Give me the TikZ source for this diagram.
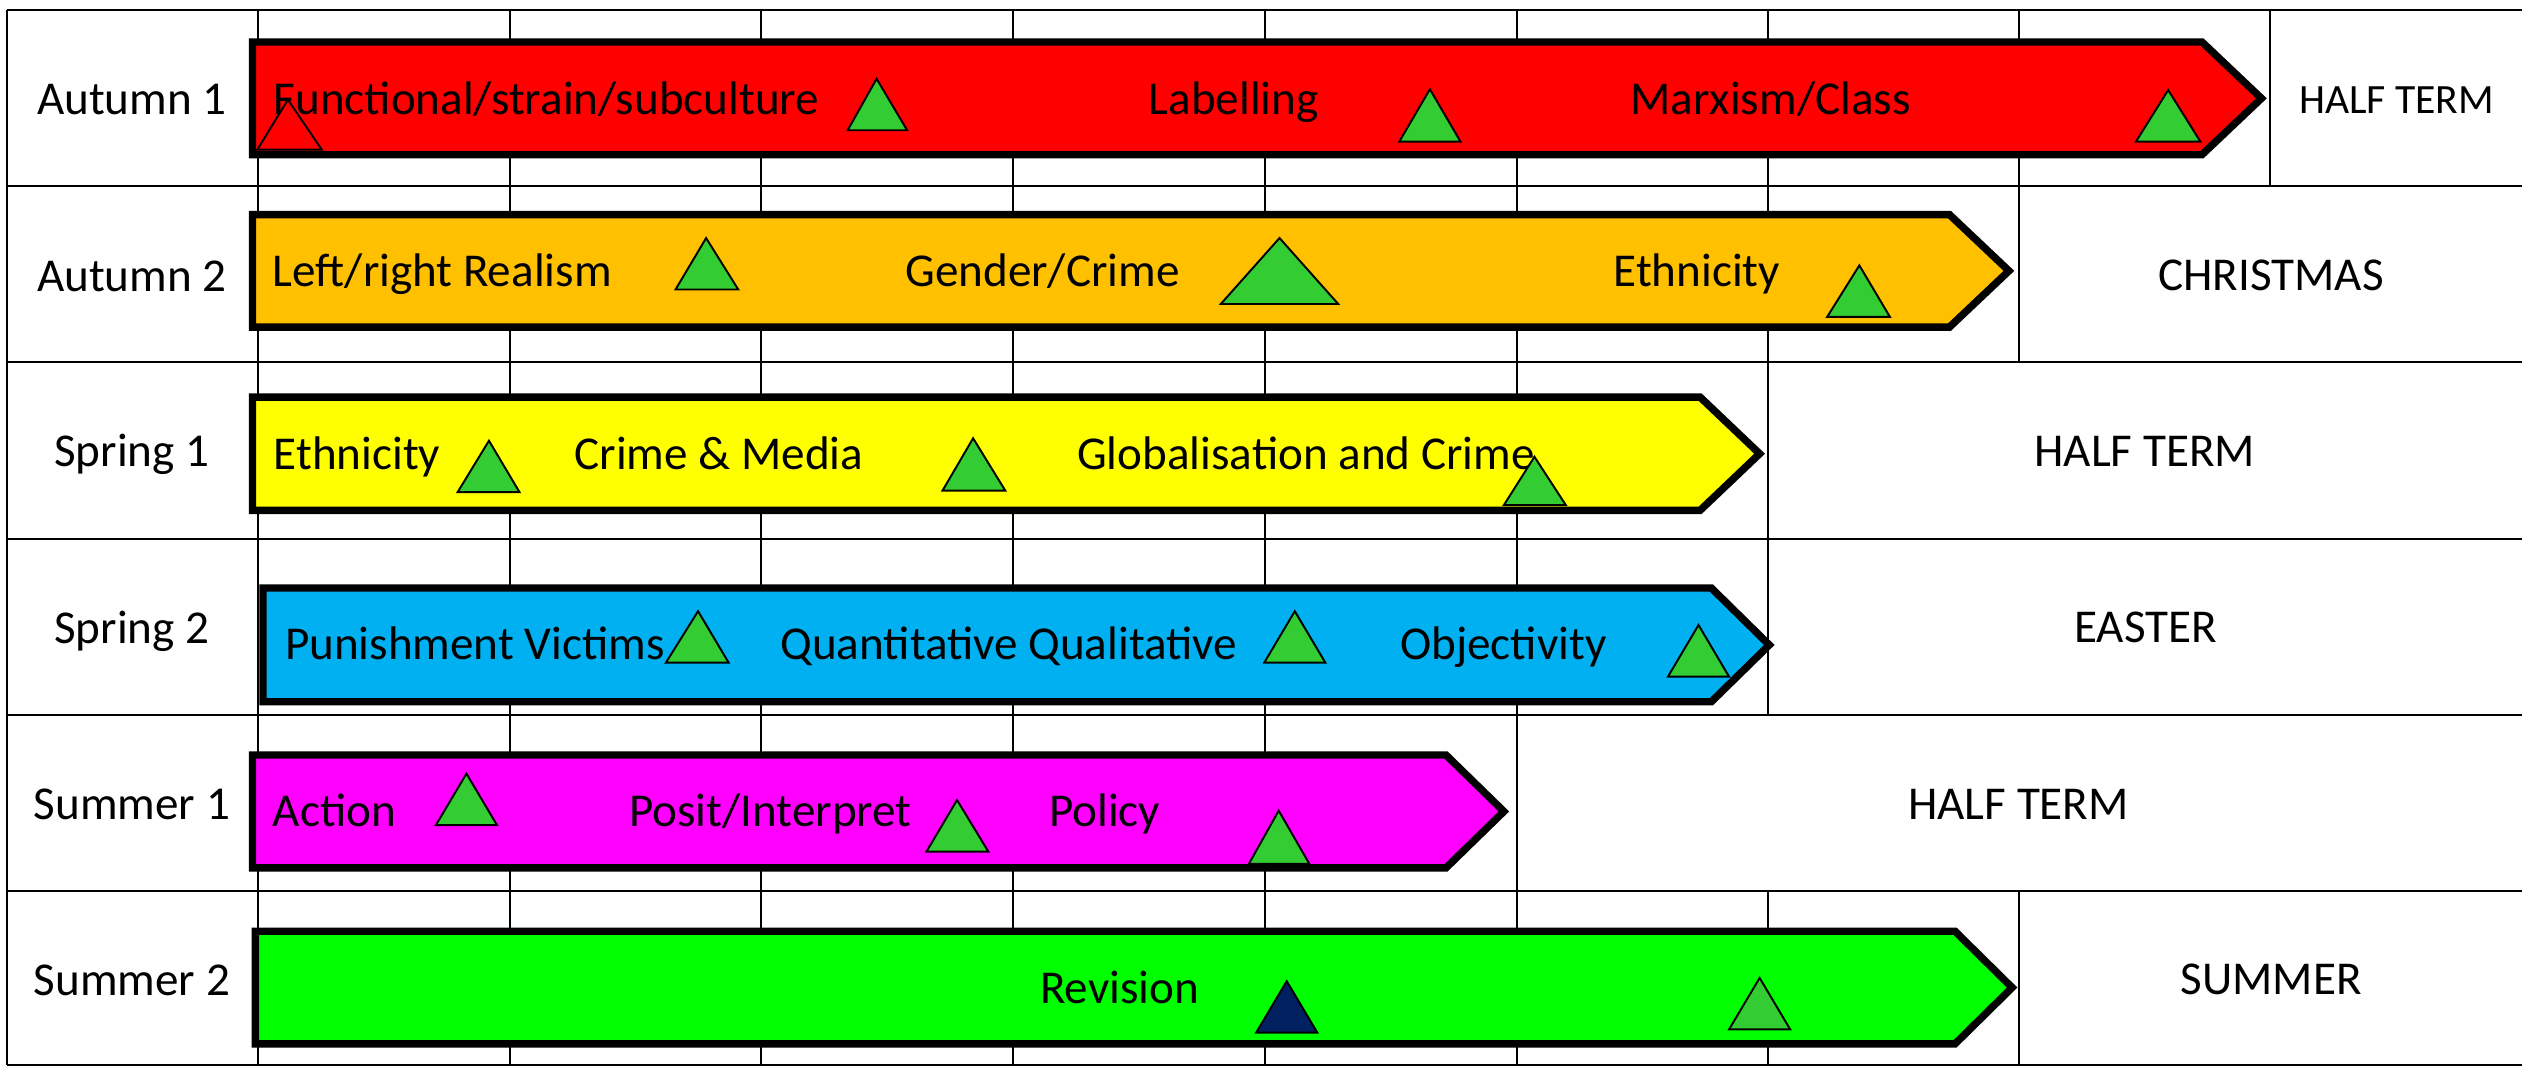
\documentclass[tikz,border=0pt]{standalone}
\usepackage{fontspec}
\setmainfont{Carlito}
\definecolor{aored}{HTML}{FF0000}
\definecolor{aoorange}{HTML}{FFC000}
\definecolor{aoyellow}{HTML}{FFFF00}
\definecolor{aoblue}{HTML}{00B0F0}
\definecolor{aomagenta}{HTML}{FF00FF}
\definecolor{aogreen}{HTML}{00FF00}
\definecolor{trigreen}{HTML}{33CC33}
\definecolor{trinavy}{HTML}{002060}
\begin{document}
\begin{tikzpicture}[x=1pt,y=-1pt,
  gridline/.style={line width=1.3pt, black},
  termbar/.style={line width=4.6pt, black, line join=miter, miter limit=10},
  tri/.style={line width=1.2pt, black, fill=trigreen, line join=miter},
  lbl/.style={font=\fontsize{29.3}{35}\selectfont, inner sep=0pt, anchor=base west},
  clbl/.style={font=\fontsize{29.3}{35}\selectfont, inner sep=0pt, anchor=base},
]
\useasboundingbox (0,0) rectangle (1568,663);
\fill[white] (0,0) rectangle (1568,663);

% ---- grid ----
\foreach \yy in {6,115.4,225,335,444.5,554,662}
  \draw[gridline] (4.3,\yy) -- (1568,\yy);
\draw[gridline] (4.3,6) -- (4.3,662);
% row 1
\foreach \xx in {160.6,316.8,473.3,630.0,786.4,942.9,1099.2,1255.5,1411.5}
  \draw[gridline] (\xx,6) -- (\xx,115.4);
% row 2
\foreach \xx in {160.6,316.8,473.3,630.0,786.4,942.9,1099.2,1255.5}
  \draw[gridline] (\xx,115.4) -- (\xx,225);
% rows 3-4
\foreach \xx in {160.6,316.8,473.3,630.0,786.4,942.9,1099.2}
  \draw[gridline] (\xx,225) -- (\xx,444.5);
% row 5
\foreach \xx in {160.6,316.8,473.3,630.0,786.4,942.9}
  \draw[gridline] (\xx,444.5) -- (\xx,554);
% row 6
\foreach \xx in {160.6,316.8,473.3,630.0,786.4,942.9,1099.2,1255.5}
  \draw[gridline] (\xx,554) -- (\xx,662);

% ---- row labels ----
\node[clbl] (r1) at (82,71.1) {Autumn 1};
\node[clbl] (r2) at (82,181) {Autumn 2};
\node[clbl] (r3) at (82,290.2) {Spring 1};
\node[clbl] (r4) at (82,400) {Spring 2};
\node[clbl] (r5) at (82,509.8) {Summer 1};
\node[clbl] (r6) at (82,619) {Summer 2};

% ---- holiday cells ----
\node[clbl, font=\fontsize{25.9}{31}\selectfont] (h1) at (1490,70.3) {HALF TERM};
\node[clbl] (h2) at (1412,180.7) {CHRISTMAS};
\node[clbl] (h3) at (1333.4,290.2) {HALF TERM};
\node[clbl] (h4) at (1334,399.6) {EASTER};
\node[clbl] (h5) at (1255,509.2) {HALF TERM};
\node[clbl] (h6) at (1412,618.6) {SUMMER};

% ---- term arrows ----
\draw[termbar, fill=aored] (157,26.1) -- (1369,26.1) -- (1406,61.15) -- (1369,96.2) -- (157,96.2) -- cycle;
\draw[termbar, fill=aoorange] (157,133.4) -- (1212,133.4) -- (1249,168.4) -- (1212,203.4) -- (157,203.4) -- cycle;
\draw[termbar, fill=aoyellow] (157,246.9) -- (1057,246.9) -- (1094,282.1) -- (1057,317.3) -- (157,317.3) -- cycle;
\draw[termbar, fill=aoblue] (163.5,365.6) -- (1064,365.6) -- (1100,401) -- (1064,436.3) -- (163.5,436.3) -- cycle;
\draw[termbar, fill=aomagenta] (157,469.4) -- (899,469.4) -- (935,504.5) -- (899,539.6) -- (157,539.6) -- cycle;
\draw[termbar, fill=aogreen] (158.8,579) -- (1215.5,579) -- (1251,614) -- (1215.5,649) -- (158.8,649) -- cycle;

% ---- texts in arrows ----
\node[lbl] (t11) at (170,71.1) {Functional/strain/subculture};
\node[lbl] (t12) at (714,71.1) {Labelling};
\node[lbl] (t13) at (1013.5,71.1) {Marxism/Class};
\node[lbl] (t21) at (169.5,178.2) {Left/right Realism};
\node[lbl] (t22) at (562.7,178.2) {Gender/Crime};
\node[lbl] (t23) at (1003,178.2) {Ethnicity};
\node[lbl] (t31) at (170,291.7) {Ethnicity};
\node[lbl] (t32) at (357,291.7) {Crime \& Media};
\node[lbl] (t33) at (669.5,291.7) {Globalisation and Crime};
\node[lbl] (t41) at (177,410.2) {Punishment Victims};
\node[lbl] (t42) at (485,410.2) {Quantitative Qualitative};
\node[lbl] (t43) at (870.4,410.2) {Objectivity};
\node[lbl] (t51) at (169.5,514) {Action};
\node[lbl] (t52) at (391,514) {Posit/Interpret};
\node[lbl] (t53) at (652,514) {Policy};
\node[lbl] (t61) at (646.4,623.8) {Revision};

% ---- triangles ----
\draw[tri, fill=aored] (160,93) -- (179,62) -- (200,93) -- cycle;
\draw[tri] (527,81) -- (545,49) -- (564,81) -- cycle;
\draw[tri] (870,88) -- (889,55.5) -- (908,88) -- cycle;
\draw[tri] (1328,88) -- (1348,56) -- (1368,88) -- cycle;
\draw[tri] (420,180) -- (439,148) -- (459,180) -- cycle;
\draw[tri] (759,189) -- (795.5,148) -- (832,189) -- cycle;
\draw[tri] (1136,197) -- (1156,165) -- (1175,197) -- cycle;
\draw[tri] (284.5,306) -- (304,274) -- (323,306) -- cycle;
\draw[tri] (586,305) -- (605,272.5) -- (625,305) -- cycle;
\draw[tri] (935,314) -- (954,284) -- (973.5,314) -- cycle;
\draw[tri] (414,412) -- (434,380) -- (453,412) -- cycle;
\draw[tri] (786,412) -- (805,380) -- (824,412) -- cycle;
\draw[tri] (1037,420.7) -- (1056,388.6) -- (1075,420.7) -- cycle;
\draw[tri] (271,513) -- (290,481) -- (309,513) -- cycle;
\draw[tri] (576,529.5) -- (595,497.4) -- (614.5,529.5) -- cycle;
\draw[tri] (776.5,537) -- (795,504) -- (814,537) -- cycle;
\draw[tri, fill=trinavy] (781,642) -- (800,610) -- (819,642) -- cycle;
\draw[tri] (1075,640) -- (1094,608) -- (1113,640) -- cycle;
\end{tikzpicture}
\end{document}
